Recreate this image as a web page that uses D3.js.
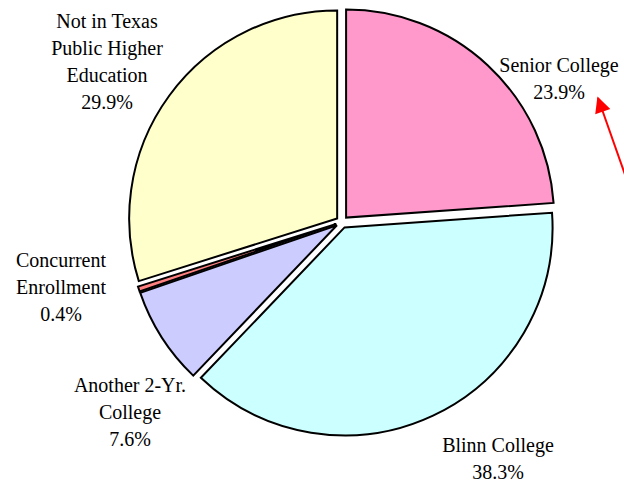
<!DOCTYPE html>
<html>
<head>
<meta charset="utf-8">
<script src="https://cdn.jsdelivr.net/npm/d3@7"></script>
<style>
  body { margin: 0; background: #fff; }
  svg text { font-family: "Liberation Serif", "Times New Roman", serif; font-size: 20px; fill: #000; }
</style>
</head>
<body>
<svg id="chart" width="624" height="483"></svg>
<script>
// data, clockwise from 12 o'clock
const categories = ['Senior College', 'Blinn College', 'Another 2-Yr. College', 'Concurrent Enrollment', 'Not in Texas Public Higher Education']
const shares = [23.9, 38.3, 7.6, 0.4, 29.9]
const labelLines = [
  ['Senior College'],
  ['Blinn College'],
  ['Another 2-Yr.', 'College'],
  ['Concurrent', 'Enrollment'],
  ['Not in Texas', 'Public Higher', 'Education']
]
const colors = ['#FF99CC', '#CCFFFF', '#CCCCFF', '#FF8080', '#FFFFCC']

// layout
const width = 624, height = 483
const cx = 342, cy = 222, radius = 208, explode = 6
const lineH = 27
// label anchor (first line baseline), per category
const labelAt = {
  'Senior College': [559, 72],
  'Blinn College': [498, 452],
  'Another 2-Yr. College': [130, 392],
  'Concurrent Enrollment': [61, 267],
  'Not in Texas Public Higher Education': [107, 28]
}

const svg = d3.select('#chart')

const pie = d3.pie().sort(null).value(d => d.v)
const arcs = pie(categories.map((c, i) => ({ c, v: shares[i], i })))
const arc = d3.arc().innerRadius(0).outerRadius(radius)

const g = svg.append('g').attr('transform', `translate(${cx},${cy})`)

g.selectAll('path')
  .data(arcs)
  .enter().append('path')
  .attr('transform', d => {
    const a = (d.startAngle + d.endAngle) / 2
    return `translate(${explode * Math.sin(a)},${-explode * Math.cos(a)})`
  })
  .attr('d', arc)
  .style('fill', d => colors[d.data.i])
  .style('stroke', '#000')
  .style('stroke-width', 2)
  .style('stroke-linejoin', 'miter')

// labels
const labels = svg.append('g').attr('class', 'labels')
arcs.forEach(d => {
  const [x, y] = labelAt[d.data.c]
  const lines = labelLines[d.data.i].concat([d3.format('.1f')(d.data.v) + '%'])
  const t = labels.append('text').attr('text-anchor', 'middle')
  lines.forEach((s, k) => {
    t.append('tspan').attr('x', x).attr('y', y + k * lineH).text(s)
  })
})

// red arrow pointing at the Senior College label
svg.append('defs').append('marker')
  .attr('id', 'head')
  .attr('viewBox', '0 0 10 10')
  .attr('refX', 9).attr('refY', 5)
  .attr('markerUnits', 'userSpaceOnUse')
  .attr('markerWidth', 18).attr('markerHeight', 16)
  .attr('orient', 'auto')
  .append('path')
  .attr('d', 'M0,0 L10,5 L0,10 Z')
  .style('fill', '#FF0000')

svg.append('line')
  .attr('x1', 634).attr('y1', 200)
  .attr('x2', 598).attr('y2', 98)
  .style('stroke', '#FF0000')
  .style('stroke-width', 2)
  .attr('marker-end', 'url(#head)')
</script>
</body>
</html>
